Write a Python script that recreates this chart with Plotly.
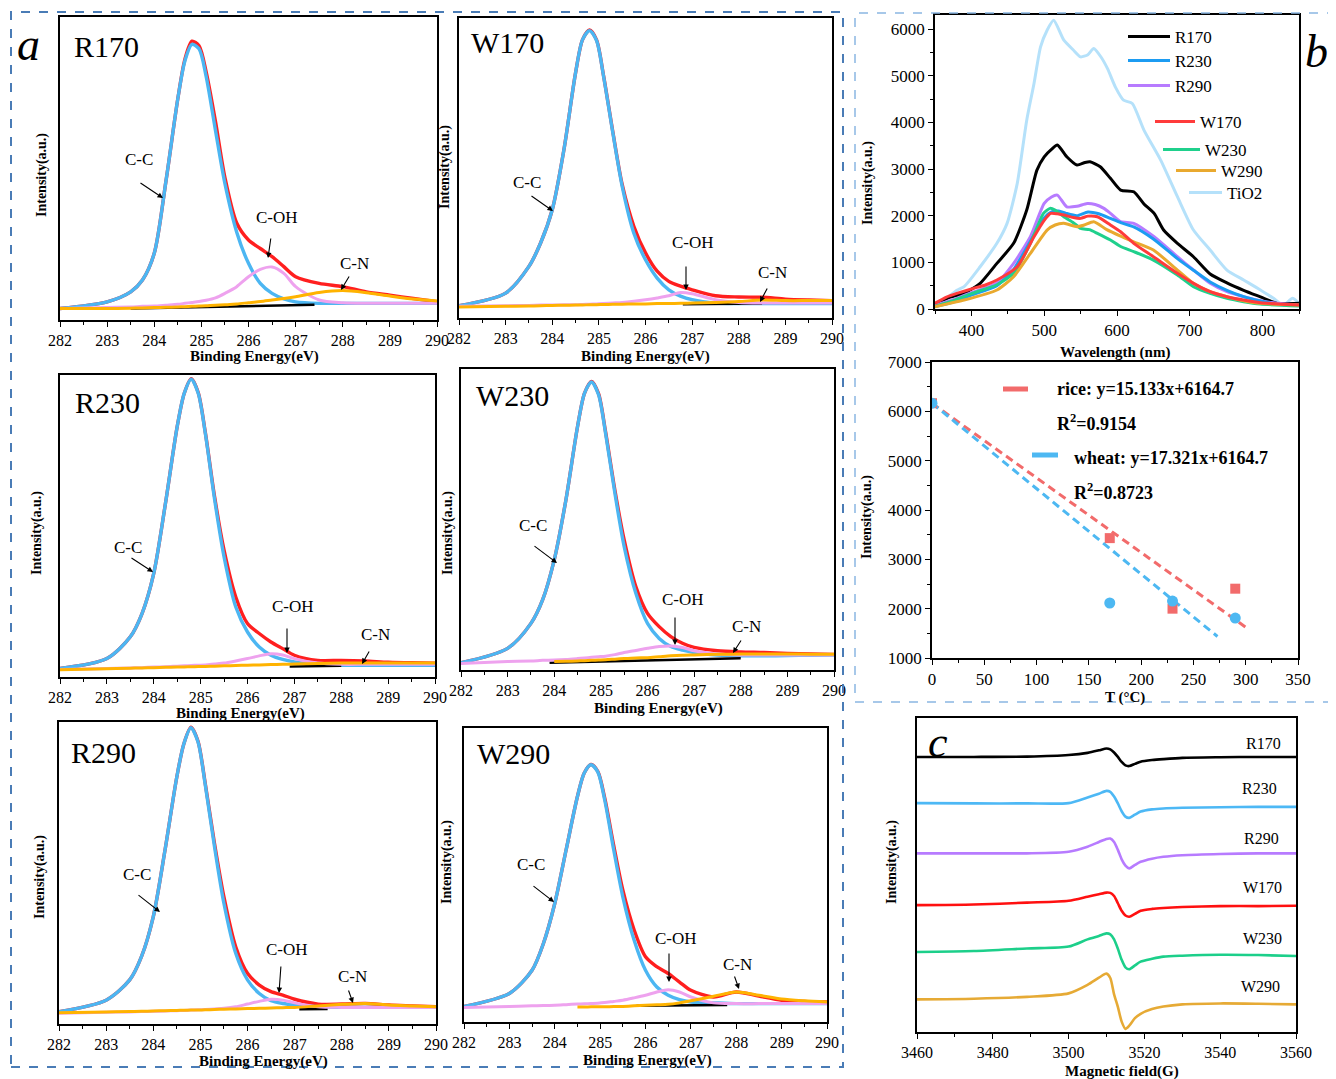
import plotly.graph_objects as go

# The page body adds an 8 px margin at the top-left, so reference pixel positions are
# shifted by 8 px; the figure is sized to reach the window's right and bottom edges.
OFF = 8
W, H = 1336 - OFF, 1079 - OFF
SERIF = "Liberation Serif, Times New Roman, serif"


def fx(p):
    return (p - OFF) / W


def fy(p):
    return 1 - (p - OFF) / H


# ---------------- XPS C1s data (panel a), intensity in % of frame height ----------------
XPS_BE = [282, 283, 283.5, 283.75, 284, 284.25, 284.5, 284.65, 284.8, 284.95, 285.1, 285.3,
          285.5, 285.75, 286, 286.25, 286.5, 286.75, 287, 287.5, 288, 288.5, 289, 289.5, 290]

R170_CC = [3.8, 6.0, 9.3, 13.2, 22, 46, 73, 85.5, 91.0, 89.5, 80.5, 62.5, 45, 29, 18.7, 12.1, 8.8, 7.0, 6.0, 5.5, 5.5, 5.5, 5.5, 5.5, 5.5]
R170_ENV = [3.8, 6.0, 9.3, 13.2, 22, 46, 73, 86.0, 92.0, 90.5, 82, 65.5, 47, 32, 26.4, 23.6, 20.9, 17.6, 14.3, 12.1, 11.0, 9.3, 8.2, 7.1, 6.0]
R170_COH = [3.8, 4.1, 4.3, 4.5, 4.6, 4.9, 5.2, 5.5, 5.8, 6.1, 6.5, 7.3, 8.8, 11.0, 14.3, 16.7, 17.5, 15.4, 11.0, 6.6, 5.7, 5.5, 5.5, 5.5, 5.5]
R170_CN = [3.8, 3.8, 3.9, 4.0, 4.1, 4.2, 4.3, 4.4, 4.5, 4.6, 4.7, 4.9, 5.0, 5.3, 5.7, 6.1, 6.6, 7.1, 7.7, 9.1, 9.7, 9.0, 7.9, 6.9, 6.3]
R170_BG_X = [283.5, 287.4]
R170_BG = [3.8, 5.0]

W170_CC = [4.1, 8.3, 17.2, 25, 36.1, 56.1, 81.7, 92.8, 95.8, 92.5, 80.6, 61.7, 43.9, 28.3, 19.4, 13.3, 9.4, 7.3, 6.1, 5.0, 4.8, 4.8, 4.8, 4.8, 4.8]
W170_ENV = [4.1, 8.3, 17.2, 25, 36.1, 56.1, 81.7, 92.8, 96.0, 92.7, 80.8, 62.0, 44.5, 30.6, 21.7, 15.6, 12.2, 10.6, 9.4, 7.4, 7.0, 6.9, 6.3, 6.0, 5.8]
W170_COH = [3.9, 4.1, 4.2, 4.3, 4.3, 4.4, 4.4, 4.5, 4.6, 4.7, 4.8, 5.0, 5.2, 5.6, 6.1, 6.7, 7.4, 8.5, 8.1, 6.1, 5.2, 5.0, 5.0, 5.0, 5.0]
W170_CN = [3.7, 3.9, 4.0, 4.1, 4.2, 4.25, 4.3, 4.35, 4.4, 4.45, 4.5, 4.55, 4.6, 4.65, 4.7, 4.8, 4.85, 4.9, 5.0, 5.2, 5.5, 6.0, 5.8, 5.8, 5.8]
W170_BG_X = [286.8, 288.5]
W170_BG = [4.6, 4.8]

R230_CC = [2.8, 6.1, 13.3, 21, 34.3, 57.5, 82.9, 93.9, 98.6, 93.9, 80.7, 58.6, 39.8, 23.2, 14.9, 9.9, 7.2, 5.8, 5.0, 4.2, 3.9, 3.9, 3.9, 3.9, 3.9]
R230_ENV = [2.8, 6.1, 13.3, 21, 34.3, 57.5, 82.9, 93.9, 98.8, 94.1, 81.0, 59.5, 42, 26.5, 17.7, 14.4, 11.6, 9.4, 7.2, 5.5, 5.5, 5.3, 4.9, 4.7, 4.6]
R230_COH = [2.5, 2.8, 3.0, 3.1, 3.3, 3.4, 3.6, 3.7, 3.8, 3.9, 4.0, 4.3, 4.6, 5.3, 6.1, 7.0, 7.7, 7.3, 6.1, 4.6, 4.2, 4.2, 4.2, 4.2, 4.2]
R230_CN = [2.4, 2.7, 2.9, 3.0, 3.1, 3.2, 3.3, 3.35, 3.4, 3.45, 3.5, 3.6, 3.7, 3.8, 3.9, 4.0, 4.1, 4.2, 4.3, 4.45, 4.6, 4.65, 4.6, 4.6, 4.6]
R230_BG_X = [286.9, 288.0]
R230_BG = [3.5, 3.7]

W230_CC = [2.4, 7.2, 15.5, 23.3, 36.6, 56.5, 80.9, 92.0, 95.7, 91.5, 78.7, 58.8, 41.0, 25.5, 15.5, 10.5, 7.8, 6.6, 5.8, 5.0, 4.7, 4.7, 4.8, 4.9, 5.0]
W230_ENV = [2.4, 7.2, 15.5, 23.3, 36.6, 56.5, 80.9, 92.0, 95.9, 91.8, 79.2, 59.8, 43.2, 27.7, 18.8, 14.4, 11.1, 8.9, 7.5, 6.4, 6.0, 5.8, 5.5, 5.3, 5.2]
W230_COH = [2.2, 2.8, 3.0, 3.2, 3.3, 3.5, 3.8, 4.0, 4.2, 4.4, 4.6, 5.1, 5.8, 6.5, 7.2, 7.8, 8.0, 7.5, 6.4, 5.3, 5.0, 5.0, 5.0, 5.0, 5.0]
W230_CN = [None, None, None, None, 2.8, 2.9, 3.0, 3.1, 3.2, 3.3, 3.4, 3.6, 3.8, 4.0, 4.1, 4.4, 4.7, 4.9, 5.0, 5.2, 5.3, 5.3, 5.3, 5.25, 5.2]
W230_BG_X = [283.9, 288.0]
W230_BG = [2.4, 3.9]

R290_CC = [4.1, 7.9, 14.6, 22.3, 35.5, 57.6, 81.8, 92.8, 98.1, 93.4, 79.6, 58.7, 39.9, 23.4, 14.6, 10.1, 7.7, 6.8, 6.3, 5.7, 5.5, 5.5, 5.5, 5.5, 5.5]
R290_ENV = [4.1, 7.9, 14.6, 22.3, 35.5, 57.6, 81.8, 92.8, 98.3, 93.6, 80.0, 59.8, 42.1, 25.6, 16.8, 12.9, 10.7, 9.6, 8.2, 6.6, 6.6, 6.8, 6.3, 6.0, 5.7]
R290_COH = [3.6, 3.9, 4.0, 4.1, 4.2, 4.3, 4.4, 4.5, 4.6, 4.7, 4.8, 5.0, 5.2, 5.7, 6.6, 7.5, 8.2, 7.9, 7.0, 5.7, 5.5, 5.5, 5.5, 5.5, 5.5]
R290_CN = [3.7, 4.0, 4.1, 4.2, 4.3, 4.4, 4.5, 4.55, 4.6, 4.65, 4.7, 4.8, 4.9, 5.0, 5.1, 5.2, 5.3, 5.4, 5.5, 6.0, 6.5, 6.8, 6.3, 6.0, 5.7]
R290_BG_X = [287.1, 287.7]
R290_BG = [4.9, 5.0]

W290_CC = [5.3, 9.7, 17.6, 26.7, 40.3, 58.5, 76.7, 84.7, 87.5, 85.0, 75.6, 58.5, 42.6, 27.8, 17.6, 11.9, 9.1, 7.6, 6.8, 6.5, 6.25, 6.25, 6.25, 6.25, 6.25]
W290_ENV = [5.3, 9.7, 17.6, 26.7, 40.3, 58.5, 76.7, 84.7, 87.6, 85.2, 76.3, 60.0, 44.9, 31.3, 22.2, 18.8, 16.5, 13.6, 10.8, 8.5, 10.2, 8.8, 7.4, 7.0, 6.8]
W290_COH = [4.9, 5.3, 5.5, 5.6, 5.7, 5.9, 6.1, 6.2, 6.3, 6.4, 6.6, 7.0, 7.4, 8.2, 9.1, 10.2, 11.0, 10.2, 8.5, 6.5, 6.25, 6.25, 6.25, 6.25, 6.25]
W290_CN = [None, None, None, None, None, None, 5.1, 5.1, 5.15, 5.2, 5.2, 5.25, 5.3, 5.5, 5.7, 5.85, 6.0, 6.5, 7.2, 8.75, 10.2, 9.1, 7.8, 7.2, 6.8]
W290_BG_X = [285.8, 287.8]
W290_BG = [5.5, 5.8]

XPS_SAMPLES = ["R170", "W170", "R230", "W230", "R290", "W290"]

# ---------------- PL spectra (panel b, top) ----------------
PL_TIO2_X = [350, 365, 380, 390, 412, 435, 449, 463, 476, 486, 495, 504, 513, 527, 540, 550, 560, 568, 578, 587, 598, 609, 621, 637, 660, 683, 705, 728, 751, 774, 797, 815, 829, 841, 850]
PL_TIO2_Y = [90, 220, 400, 480, 906, 1407, 1835, 2692, 4047, 4833, 5617, 5974, 6188, 5760, 5550, 5403, 5450, 5582, 5400, 5150, 4750, 4475, 4404, 3833, 3190, 2406, 1692, 1263, 835, 621, 407, 228, 86, 228, 121]
PL_R170_X = [350, 370, 390, 412, 435, 458, 476, 490, 500, 510, 518, 531, 545, 556, 563, 577, 591, 605, 623, 637, 651, 664, 683, 705, 728, 751, 774, 797, 820, 850]
PL_R170_Y = [110, 250, 335, 550, 978, 1407, 2120, 2976, 3262, 3420, 3512, 3262, 3084, 3140, 3154, 3048, 2800, 2548, 2512, 2250, 2049, 1692, 1407, 1120, 750, 560, 400, 260, 121, 121]
PL_R230_X = [350, 375, 400, 435, 458, 481, 500, 510, 520, 530, 545, 560, 575, 591, 605, 623, 650, 683, 705, 728, 751, 774, 797, 820, 850]
PL_R230_Y = [50, 150, 300, 500, 850, 1450, 1950, 2080, 2100, 2050, 2000, 2080, 2040, 1940, 1850, 1760, 1500, 1080, 830, 580, 400, 264, 170, 100, 80]
PL_R290_X = [350, 375, 400, 435, 458, 481, 500, 510, 518, 531, 545, 559, 570, 582, 591, 605, 623, 651, 683, 705, 728, 751, 774, 797, 820, 850]
PL_R290_Y = [80, 200, 350, 560, 978, 1548, 2262, 2400, 2441, 2190, 2200, 2262, 2240, 2156, 2049, 1870, 1835, 1548, 1120, 835, 550, 371, 264, 178, 121, 80]
PL_W170_X = [350, 365, 380, 390, 403, 420, 435, 463, 486, 500, 509, 518, 527, 540, 550, 560, 573, 591, 605, 623, 650, 683, 705, 728, 751, 774, 797, 850]
PL_W170_Y = [121, 250, 335, 380, 442, 520, 621, 906, 1548, 1900, 2049, 2040, 2013, 1960, 1942, 1990, 1976, 1800, 1655, 1407, 1120, 764, 550, 371, 264, 192, 135, 86]
PL_W230_X = [350, 375, 400, 435, 458, 481, 499, 508, 515, 527, 540, 550, 562, 573, 591, 605, 623, 650, 683, 705, 728, 751, 774, 797, 850]
PL_W230_Y = [60, 180, 330, 520, 764, 1407, 2049, 2156, 2120, 1976, 1850, 1728, 1700, 1621, 1478, 1340, 1230, 1049, 728, 478, 335, 228, 157, 107, 64]
PL_W290_X = [350, 375, 390, 435, 458, 481, 504, 515, 527, 545, 555, 568, 586, 605, 623, 650, 683, 705, 728, 751, 774, 797, 850]
PL_W290_Y = [50, 140, 192, 407, 692, 1192, 1692, 1800, 1835, 1764, 1800, 1870, 1700, 1560, 1440, 1263, 835, 550, 371, 264, 178, 121, 86]

# ---------------- PL peak intensity vs temperature (panel b, bottom) ----------------
T_RICE = [0, 170, 230, 290]
I_RICE = [6164.7, 3430, 2000, 2405]
T_WHEAT = [0, 170, 230, 290]
I_WHEAT = [6164.7, 2115, 2155, 1810]
FIT_RICE_T = [0, 300]
FIT_RICE_I = [6164.7, 1624.8]
FIT_WHEAT_T = [0, 273]
FIT_WHEAT_I = [6164.7, 1436.1]

# ---------------- EPR spectra (panel c), stacked, % of frame height ----------------
EPR_FIELD = [3460, 3475, 3489, 3500, 3505, 3508, 3510, 3511, 3512, 3513, 3514, 3515, 3516, 3517.5, 3519, 3522, 3525, 3530, 3540, 3550, 3560]
EPR_R170 = [87.6, 87.6, 87.7, 88.2, 88.9, 89.7, 90.3, 90.0, 89.0, 87.6, 86.0, 84.9, 84.7, 85.4, 86.1, 86.6, 86.9, 87.3, 87.5, 87.6, 87.6]
EPR_R230 = [72.9, 72.8, 72.8, 72.9, 74.7, 75.9, 76.8, 76.5, 75.0, 72.8, 70.3, 68.6, 68.2, 69.2, 70.2, 70.9, 71.2, 71.4, 71.6, 71.7, 71.7]
EPR_R290 = [56.9, 56.9, 56.9, 57.4, 59.0, 60.5, 61.5, 61.6, 60.5, 58.0, 55.0, 53.0, 52.1, 53.2, 54.2, 55.2, 55.8, 56.3, 56.7, 56.9, 56.9]
EPR_W170 = [40.4, 40.6, 41.2, 41.8, 43.1, 43.9, 44.4, 44.3, 43.3, 41.0, 38.6, 37.1, 36.7, 37.6, 38.6, 39.2, 39.5, 39.8, 40.1, 40.1, 40.2]
EPR_W230 = [25.5, 25.8, 26.6, 27.2, 29.5, 30.6, 31.4, 31.1, 29.5, 26.5, 23.0, 20.6, 20.0, 21.2, 22.4, 23.3, 24.0, 24.3, 24.6, 24.5, 24.2]
EPR_W290 = [10.4, 10.6, 11.2, 12.3, 15.0, 17.3, 18.6, 17.2, 12.0, 8.0, 3.3, 1.0, 2.0, 4.4, 5.8, 7.3, 8.1, 8.8, 9.1, 9.0, 8.8]

# ---------------- styling ----------------
C_BLUE = "#4cb6f2"
C_RED = "#ff1f1f"
C_PINK = "#eea2ee"
C_ORANGE = "#ffb300"

fig = go.Figure()
layout = {}


def axis_pair(n, box, xr, yr, xdtick, xminor, xtick0, show_y=False, ydtick=None, yminor=None, fsize=15):
    left, top, right, bottom = box
    xk = "xaxis" if n == 1 else f"xaxis{n}"
    yk = "yaxis" if n == 1 else f"yaxis{n}"
    anchor_x = "x" if n == 1 else f"x{n}"
    anchor_y = "y" if n == 1 else f"y{n}"
    layout[xk] = dict(domain=[fx(left), fx(right)], range=xr, anchor=anchor_y, automargin=False,
                      tickmode="linear", tick0=xtick0, dtick=xdtick,
                      ticks="outside", ticklen=5, tickwidth=1.2, tickcolor="black",
                      minor=dict(dtick=xminor, ticks="outside", ticklen=3, tickwidth=1, tickcolor="black"),
                      showline=True, mirror=True, linecolor="black", linewidth=1.6,
                      showgrid=False, zeroline=False,
                      tickfont=dict(family=SERIF, size=fsize, color="black"))
    ycfg = dict(domain=[fy(bottom), fy(top)], range=yr, anchor=anchor_x, automargin=False,
                showline=True, mirror=True, linecolor="black", linewidth=1.6,
                showgrid=False, zeroline=False)
    if show_y:
        ycfg.update(tickmode="linear", tick0=yr[0], dtick=ydtick, ticks="outside", ticklen=5,
                    tickwidth=1.2, tickcolor="black",
                    minor=dict(dtick=yminor, ticks="outside", ticklen=3, tickwidth=1, tickcolor="black"),
                    tickfont=dict(family=SERIF, size=fsize, color="black"))
    else:
        ycfg.update(showticklabels=False, ticks="")
    layout[yk] = ycfg
    return anchor_x, anchor_y


XPS_BOXES = [(60, 17, 437, 320), (459, 18, 832, 318), (60, 375, 435, 677),
             (461, 369, 834, 670), (59, 722, 436, 1024), (464, 728, 827, 1022)]

xps_data = {
    "R170": (R170_ENV, R170_CC, R170_BG_X, R170_BG, R170_COH, R170_CN),
    "W170": (W170_ENV, W170_CC, W170_BG_X, W170_BG, W170_COH, W170_CN),
    "R230": (R230_ENV, R230_CC, R230_BG_X, R230_BG, R230_COH, R230_CN),
    "W230": (W230_ENV, W230_CC, W230_BG_X, W230_BG, W230_COH, W230_CN),
    "R290": (R290_ENV, R290_CC, R290_BG_X, R290_BG, R290_COH, R290_CN),
    "W290": (W290_ENV, W290_CC, W290_BG_X, W290_BG, W290_COH, W290_CN),
}

for i, (name, box) in enumerate(zip(XPS_SAMPLES, XPS_BOXES)):
    xa, ya = axis_pair(i + 1, box, [282, 290], [0, 100], 1, 0.5, 282, fsize=16)
    env, cc, bgx, bg, coh, cn = xps_data[name]
    common = dict(xaxis=xa, yaxis=ya, mode="lines", showlegend=False, hoverinfo="skip")
    fig.add_trace(go.Scatter(x=XPS_BE, y=env, line=dict(color=C_RED, width=3.4, shape="spline", smoothing=0.8), **common))
    fig.add_trace(go.Scatter(x=XPS_BE, y=cc, line=dict(color=C_BLUE, width=3.4, shape="spline", smoothing=0.8), **common))
    fig.add_trace(go.Scatter(x=bgx, y=bg, line=dict(color="black", width=2.5), **common))
    fig.add_trace(go.Scatter(x=XPS_BE, y=coh, line=dict(color=C_PINK, width=3, shape="spline", smoothing=0.8), **common))
    fig.add_trace(go.Scatter(x=XPS_BE, y=cn, line=dict(color=C_ORANGE, width=3, shape="spline", smoothing=0.8), connectgaps=False, **common))

# PL panel
xa7, ya7 = axis_pair(7, (935, 15, 1299, 309), [350, 850], [0, 6300], 100, 50, 400,
                     show_y=True, ydtick=1000, yminor=500, fsize=17)
pl_series = [
    ("TiO2", PL_TIO2_X, PL_TIO2_Y, "#b5e1fa", "legend7", 33),
    ("R170", PL_R170_X, PL_R170_Y, "black", "legend", 42),
    ("R290", PL_R290_X, PL_R290_Y, "#b77bff", "legend3", 42),
    ("R230", PL_R230_X, PL_R230_Y, "#1c9cf2", "legend2", 42),
    ("W230", PL_W230_X, PL_W230_Y, "#1fd08c", "legend5", 37),
    ("W290", PL_W290_X, PL_W290_Y, "#e9a92f", "legend6", 40),
    ("W170", PL_W170_X, PL_W170_Y, "#ff3b3b", "legend4", 40),
]
legend_pos = {  # line start x, center y (reference pixels)
    "legend": (1130, 37), "legend2": (1130, 61), "legend3": (1130, 86),
    "legend4": (1157, 122), "legend5": (1165, 150), "legend6": (1178, 171), "legend7": (1191, 193),
}
for name, xs, ys, col, lg, iw in pl_series:
    fig.add_trace(go.Scatter(x=xs, y=ys, xaxis=xa7, yaxis=ya7, mode="lines", name=name, legend=lg,
                             line=dict(color=col, width=3, shape="spline", smoothing=0.6),
                             hoverinfo="skip"))
    lx, ly = legend_pos[lg]
    layout[lg] = dict(x=fx(lx - 7), y=fy(ly), xanchor="left", yanchor="middle",
                      bgcolor="rgba(0,0,0,0)", borderwidth=0, itemwidth=max(iw, 30),
                      font=dict(family=SERIF, size=17, color="black"))

# Fit panel
xa8, ya8 = axis_pair(8, (932, 362, 1298, 658), [0, 350], [1000, 7000], 50, 25, 0,
                     show_y=True, ydtick=1000, yminor=500, fsize=17)
fig.add_trace(go.Scatter(x=FIT_RICE_T, y=FIT_RICE_I, xaxis=xa8, yaxis=ya8, mode="lines", showlegend=False,
                         line=dict(color="#f26b6b", width=3, dash="8px,5px"), hoverinfo="skip"))
fig.add_trace(go.Scatter(x=FIT_WHEAT_T, y=FIT_WHEAT_I, xaxis=xa8, yaxis=ya8, mode="lines", showlegend=False,
                         line=dict(color="#4db8f2", width=3, dash="8px,5px"), hoverinfo="skip"))
fig.add_trace(go.Scatter(x=T_RICE, y=I_RICE, xaxis=xa8, yaxis=ya8, mode="markers", showlegend=False,
                         marker=dict(symbol="square", size=10, color="#f26b6b"), hoverinfo="skip"))
fig.add_trace(go.Scatter(x=T_WHEAT, y=I_WHEAT, xaxis=xa8, yaxis=ya8, mode="markers", showlegend=False,
                         marker=dict(symbol="circle", size=11, color="#4db8f2"), hoverinfo="skip"))

# EPR panel
xa9, ya9 = axis_pair(9, (917, 718, 1296, 1032), [3460, 3560], [0, 100], 20, 10, 3460, fsize=16)
epr_series = [("R170", EPR_R170, "black"), ("R230", EPR_R230, "#4db8f5"), ("R290", EPR_R290, "#b77bff"),
              ("W170", EPR_W170, "#ff1010"), ("W230", EPR_W230, "#1ccf8a"), ("W290", EPR_W290, "#e6aa35")]
for name, ys, col in epr_series:
    fig.add_trace(go.Scatter(x=EPR_FIELD, y=ys, xaxis=xa9, yaxis=ya9, mode="lines", showlegend=False,
                             line=dict(color=col, width=2.6, shape="spline", smoothing=0.7), hoverinfo="skip"))

# ---------------- annotations ----------------
ann = []


def text(x, y, s, size=15, angle=0, italic=False, bold=False, xanchor="center", family=SERIF):
    t = s
    if bold:
        t = f"<b>{t}</b>"
    if italic:
        t = f"<i>{t}</i>"
    ann.append(dict(x=fx(x), y=fy(y), xref="paper", yref="paper", text=t, showarrow=False,
                    xanchor=xanchor, yanchor="middle", textangle=angle,
                    font=dict(family=family, size=size, color="black")))


def arrow(tail, tip):
    ann.append(dict(x=fx(tip[0]), y=fy(tip[1]), xref="paper", yref="paper", text="",
                    showarrow=True, arrowhead=2, arrowsize=1, arrowwidth=1.1, arrowcolor="black",
                    ax=tail[0] - tip[0], ay=tail[1] - tip[1]))


PANEL_NAME_POS = [(106, 47), (507, 42), (107, 402), (512, 395), (103, 752), (513, 753)]
for name, pos in zip(XPS_SAMPLES, PANEL_NAME_POS):
    text(pos[0], pos[1], name, size=30)

LABELS = {
    "R170": [((139, 160), (139, 182), (163, 198)), ((277, 218), (271, 237), (268, 258)), ((354, 263), (350, 275), (341, 290))],
    "W170": [((527, 183), (530, 195), (553, 211)), ((693, 242), (686, 265), (686, 290)), ((773, 272), (768, 287), (760, 302))],
    "R230": [((128, 547), (130, 557), (153, 572)), ((293, 606), (287, 627), (287, 653)), ((375, 634), (370, 650), (362, 664))],
    "W230": [((533, 525), (533, 545), (557, 563)), ((683, 599), (675, 616), (675, 645)), ((746, 626), (742, 639), (733, 653))],
    "R290": [((137, 874), (137, 894), (160, 912)), ((287, 949), (281, 965), (279, 993)), ((352, 976), (348, 989), (353, 1003))],
    "W290": [((531, 864), (532, 885), (554, 902)), ((676, 938), (669, 952), (669, 982)), ((738, 964), (734, 975), (739, 989))],
}
for name in XPS_SAMPLES:
    for lab, (tpos, tail, tip) in zip(["C-C", "C-OH", "C-N"], LABELS[name]):
        text(tpos[0], tpos[1], lab, size=17)
        arrow(tail, tip)

for pos in [(254, 357), (645, 357), (240, 713), (658, 708), (263, 1061), (647, 1060)]:
    text(pos[0], pos[1], "Binding Energy(eV)", size=15, bold=True)
for pos in [(42, 175), (445, 167), (37, 533), (448, 533), (40, 877), (447, 862)]:
    text(pos[0], pos[1], "Intensity(a.u.)", size=14, bold=True, angle=-90)

text(1115, 353, "Wavelength (nm)", size=15, bold=True)
text(868, 183, "Intensity(a.u.)", size=14, bold=True, angle=-90)
text(1125, 697, "T (°C)", size=15, bold=True)
text(867, 517, "Intensity(a.u.)", size=14, bold=True, angle=-90)
text(1122, 1071, "Magnetic field(G)", size=15, bold=True)
text(892, 862, "Intensity(a.u.)", size=14, bold=True, angle=-90)

# fit legend texts
text(1055, 389, "rice: y=15.133x+6164.7", size=18, bold=True, xanchor="left")
text(1055, 423, "R<sup>2</sup>=0.9154", size=18, bold=True, xanchor="left")
text(1072, 458, "wheat: y=17.321x+6164.7", size=18, bold=True, xanchor="left")
text(1072, 492, "R<sup>2</sup>=0.8723", size=18, bold=True, xanchor="left")

# EPR labels
for name, pos in zip(["R170", "R230", "R290", "W170", "W230", "W290"],
                     [(1263, 743), (1259, 788), (1261, 838), (1262, 887), (1262, 938), (1260, 986)]):
    text(pos[0], pos[1], name, size=16)

# panel letters
text(28, 45, "a", size=46, italic=True)
text(1316, 52, "b", size=46, italic=True)
text(938, 742, "c", size=44, italic=True)

# ---------------- shapes: panel borders + fit legend keys ----------------
shapes = [
    dict(type="rect", xref="paper", yref="paper", x0=fx(11), x1=fx(843), y0=fy(1067), y1=fy(12),
         line=dict(color="#4a7cb6", width=2, dash="dash")),
    dict(type="rect", xref="paper", yref="paper", x0=fx(855), x1=fx(1345), y0=fy(702), y1=fy(13),
         line=dict(color="#8ab6e2", width=1.5, dash="dash")),
    dict(type="line", xref="paper", yref="paper", x0=fx(1003), x1=fx(1028), y0=fy(389), y1=fy(389),
         line=dict(color="#f26b6b", width=5)),
    dict(type="line", xref="paper", yref="paper", x0=fx(1032), x1=fx(1058), y0=fy(455), y1=fy(455),
         line=dict(color="#4db8f2", width=5)),
]

layout.update(dict(width=W, height=H, autosize=False,
                   margin=dict(l=0, r=0, t=0, b=0, pad=0, autoexpand=False),
                   paper_bgcolor="white", plot_bgcolor="white",
                   annotations=ann, shapes=shapes, showlegend=True,
                   font=dict(family=SERIF, color="black")))
fig.update_layout(**layout)

fig.write_html("out.html")
